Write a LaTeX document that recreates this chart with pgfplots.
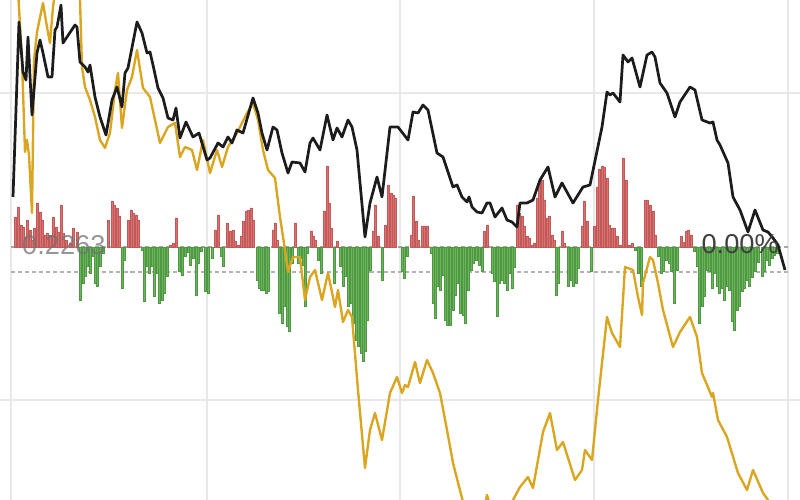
\documentclass[border=0pt]{standalone}
\usepackage{pgfplots}
\usepackage{pgfplotstable}
\pgfplotsset{compat=1.18}
\usepackage{fontspec}
\setmainfont{Liberation Sans}

\definecolor{goldline}{RGB}{218,165,32}
\definecolor{blackline}{RGB}{28,28,28}
\definecolor{upfill}{RGB}{222,112,112}
\definecolor{updraw}{RGB}{190,90,90}
\definecolor{downfill}{RGB}{104,184,86}
\definecolor{downdraw}{RGB}{80,150,70}
\definecolor{gridc}{RGB}{232,232,232}

% price lines: x and y in picture pixels (y measured downward)
\pgfplotstableread{
x py
13 197
19 22
23 72
26 80
28 37
32 115
37 53
40 40
43 53
48 77
52 77
55 30
57 27
61 5
63 43
67 37
75 25
77 27
80 62
85 67
88 72
90 65
95 97
100 117
106 135
112 100
117 87
122 107
125 73
128 68
137 22
142 33
147 53
150 52
153 65
158 88
163 98
168 118
173 120
176 108
180 138
186 122
193 137
199 133
207 160
210 158
218 143
223 147
228 137
232 143
237 130
243 133
253 98
258 113
262 133
267 150
273 127
277 130
282 153
288 173
292 162
300 163
305 172
310 143
313 138
320 150
327 115
333 140
337 128
342 137
348 120
352 127
357 150
365 237
370 203
377 177
382 197
390 127
398 127
408 140
413 112
418 113
423 105
428 110
437 153
443 157
453 187
457 185
462 197
467 202
469 197
472 207
477 212
482 213
487 203
490 203
495 217
502 208
507 220
512 222
517 227
520 203
527 203
533 200
540 180
548 167
555 197
562 183
573 203
583 187
590 185
602 127
607 92
610 95
613 93
620 102
623 55
628 62
632 58
640 87
647 55
652 52
655 57
660 83
667 93
675 117
680 102
690 87
695 90
702 120
710 123
713 122
717 140
720 145
728 163
733 197
740 210
748 232
755 210
763 230
768 232
773 238
778 245
785 270
}\blackdata

\pgfplotstableread{
x py
18 -10
22 60
25 152
27 140
29 155
32 213
34 60
37 32
43 3
47 27
50 43
53 7
57 -20
76 -20
80 0
82 67
85 87
90 100
95 117
100 140
105 148
110 133
115 90
118 73
122 128
127 90
132 77
137 50
143 88
150 97
155 120
160 143
165 133
168 127
175 123
180 157
185 147
192 150
197 170
203 140
210 173
217 150
222 167
228 147
237 133
247 113
253 103
258 120
263 150
268 170
275 178
280 217
285 250
288 272
293 257
300 257
305 300
310 277
315 270
322 300
328 273
335 307
338 290
343 322
348 310
352 317
358 390
365 468
370 430
375 413
382 440
390 393
397 377
402 393
405 385
408 387
415 362
420 383
427 360
433 373
440 393
447 430
453 463
462 498
468 520
482 520
487 495
490 505
510 505
513 500
520 487
528 477
533 488
543 432
550 413
557 450
563 442
575 480
582 470
585 450
592 460
598 400
607 317
612 333
620 347
625 267
633 270
638 297
642 315
643 283
650 257
653 260
658 283
663 310
673 347
680 332
690 317
697 337
702 373
712 397
713 393
718 420
727 437
738 473
747 490
753 470
763 493
768 500
775 520
}\golddata

% volume-like bars: x in pixels, height in pixels from the base line
\pgfplotstableread{
x h
15 30
18 40
21 22
23 20
25 10
27 27
30 17
32 7
34 19
37 44
40 35
42 27
45 12
47 14
50 12
53 30
56 20
58 15
61 42
63 14
66 7
70 4
73 19
77 15
108 27
112 46
114 42
117 39
119 31
128 27
131 37
133 34
136 32
138 27
170 2
173 4
176 29
215 17
218 32
227 24
230 16
233 17
235 6
238 2
241 11
243 26
246 36
248 37
251 39
253 27
273 17
275 24
277 7
295 24
311 16
313 11
315 7
324 36
327 81
329 44
331 19
337 6
373 16
375 42
378 11
385 22
388 62
391 54
393 52
395 49
411 12
413 51
416 26
418 7
422 21
424 21
427 21
484 16
487 22
517 42
519 34
522 31
524 21
527 11
529 9
532 2
534 4
537 49
539 66
542 67
544 47
547 29
549 31
552 12
554 7
562 16
564 4
582 21
584 46
587 26
594 21
597 60
599 78
602 81
604 80
607 69
609 22
612 19
614 19
617 11
620 2
623 89
626 67
629 2
632 4
645 47
647 47
650 42
653 36
655 12
681 11
683 5
686 16
688 17
691 12
}\updata

\pgfplotstableread{
x h
80 -53
83 -36
85 -29
87 -19
90 -26
93 -9
95 -36
97 -39
100 -19
103 -6
122 -41
124 -13
142 -3
144 -54
147 -19
149 -26
152 -19
154 -49
157 -26
159 -56
162 -53
164 -46
167 -29
179 -24
182 -28
185 -9
188 -5
190 -18
193 -11
196 -48
198 -16
201 -4
205 -44
208 -46
212 -11
221 -9
223 -19
257 -33
259 -41
261 -43
263 -43
266 -46
268 -44
279 -66
282 -76
284 -59
287 -79
289 -84
292 -16
298 -16
300 -11
303 -18
305 -59
307 -6
318 -13
321 -26
334 -36
340 -19
343 -39
345 -29
348 -59
351 -56
353 -76
356 -93
358 -99
361 -106
363 -114
365 -104
367 -73
370 -23
382 -33
402 -24
404 -31
407 -9
431 -6
433 -56
435 -71
437 -39
440 -43
443 -28
445 -73
447 -78
450 -78
453 -63
455 -48
457 -36
460 -66
463 -68
465 -76
468 -43
471 -23
473 -16
476 -13
479 -18
482 -24
492 -26
494 -34
497 -69
499 -36
502 -33
504 -36
507 -43
509 -26
512 -41
514 -20
556 -48
558 -36
568 -39
571 -33
573 -39
576 -36
578 -21
591 -24
635 -3
638 -26
641 -39
658 -9
661 -26
663 -24
666 -13
669 -16
671 -24
674 -56
677 -23
694 -4
697 -19
699 -76
702 -59
704 -49
707 -23
709 -24
712 -41
714 -26
717 -39
719 -46
722 -41
724 -53
727 -39
729 -43
732 -74
734 -83
737 -63
739 -59
742 -44
744 -41
747 -33
749 -39
752 -30
755 -24
758 -15
762 -29
764 -24
767 -13
769 -18
772 -11
774 -8
777 -6
}\downdata

\begin{document}
\begin{tikzpicture}
\begin{axis}[
  width=16cm, height=10cm, scale only axis,
  xmin=0, xmax=800, ymin=-253, ymax=247,
  axis line style={draw=none},
  tick style={draw=none},
  xtick={11,207,400,594,788},
  ytick={-153,154},
  xticklabels={}, yticklabels={},
  grid=major,
  grid style={gridc, line width=0.8pt},
]
  % base line and lower dashed line
  \addplot[gray!70, line width=0.6pt, dash pattern=on 2.3pt off 1.7pt] coordinates {(11,0) (788,0)};
  \addplot[gray!60, line width=0.6pt, dash pattern=on 2.3pt off 1.7pt] coordinates {(11,-25) (788,-25)};

  \addplot[ybar, bar width=1.9, bar shift=0pt, fill=upfill, draw=updraw, line width=0.15pt]
    table[x=x, y=h] {\updata};
  \addplot[ybar, bar width=1.9, bar shift=0pt, fill=downfill, draw=downdraw, line width=0.15pt]
    table[x=x, y=h] {\downdata};

  \node[anchor=west, text=black!55, opacity=0.75, font=\fontsize{15.5}{15.5}\selectfont] at (axis cs:16,2) {0.2263};

  \addplot[goldline, line width=1.35pt, line join=round] table[x=x, y expr=247-\thisrow{py}] {\golddata};
  \addplot[blackline, line width=1.55pt, line join=round] table[x=x, y expr=247-\thisrow{py}] {\blackdata};

  \node[anchor=east, text=black!75, font=\fontsize{15.5}{15.5}\selectfont] at (axis cs:785,3) {0.00\%};
\end{axis}
\pgfresetboundingbox
\path[use as bounding box] (current axis.south west) rectangle (current axis.north east);
\end{tikzpicture}
\end{document}
